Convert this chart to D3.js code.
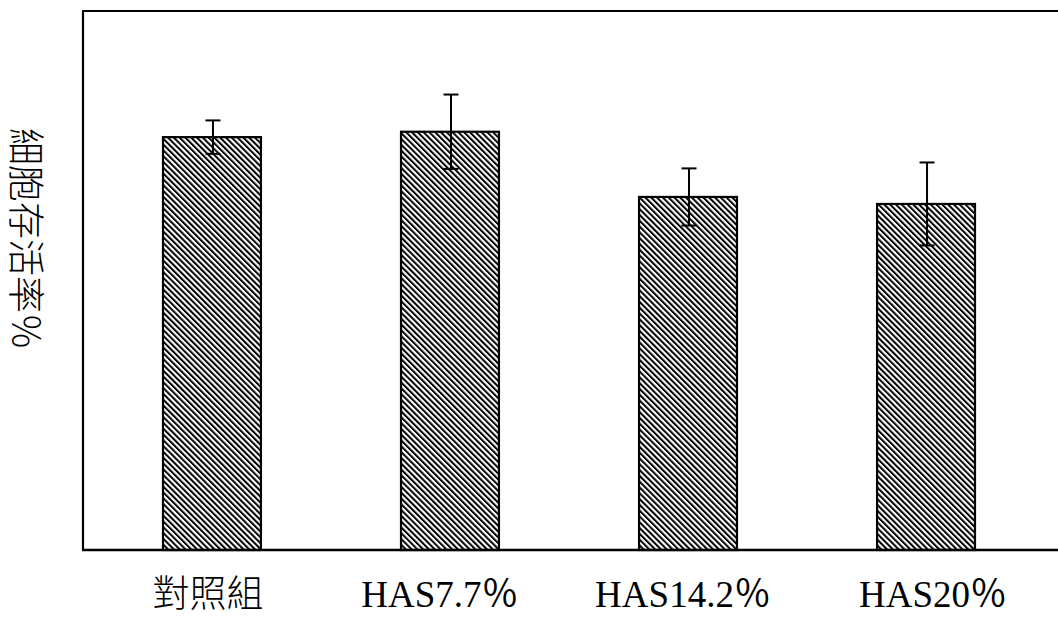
<!DOCTYPE html>
<html>
<head>
<meta charset="utf-8">
<script src="https://cdn.jsdelivr.net/npm/d3@7"></script>
<style>
  html, body { margin: 0; padding: 0; background: #fff; }
  svg { display: block; }
</style>
</head>
<body>
<svg id="chart" width="1058" height="623"></svg>
<script>
const categories = ["對照組", "HAS7.7％", "HAS14.2％", "HAS20％"];
const values = [76.6, 77.6, 65.5, 64.2];
const errors = [3.1, 6.9, 5.3, 7.7];
const yLabel = "細胞存活率％";

const svg = d3.select("#chart");
const W = 1058, H = 623;
const frame = { left: 83, top: 11, right: 1058, bottom: 550 };

const x = d3.scaleBand()
  .domain(categories)
  .range([163, 975])
  .paddingInner(0.5886)
  .paddingOuter(0);

const y = d3.scaleLinear()
  .domain([0, 100])
  .range([frame.bottom, frame.top]);

// hatch pattern
const defs = svg.append("defs");
const pat = defs.append("pattern")
  .attr("id", "hatch")
  .attr("patternUnits", "userSpaceOnUse")
  .attr("width", 4.1)
  .attr("height", 4.1)
  .attr("patternTransform", "rotate(-45)");
pat.append("rect").attr("width", 4.1).attr("height", 4.1).attr("fill", "#fff");
pat.append("line")
  .attr("x1", 1).attr("y1", -1).attr("x2", 1).attr("y2", 6)
  .attr("stroke", "#000").attr("stroke-width", 2.0);

// frame
const g = svg.append("g");
g.append("line")
  .attr("x1", frame.left).attr("x2", frame.left)
  .attr("y1", y(100)).attr("y2", y(0))
  .attr("stroke", "#000").attr("stroke-width", 2.2);
g.append("line")
  .attr("x1", frame.left - 1).attr("x2", frame.right)
  .attr("y1", y(100)).attr("y2", y(100))
  .attr("stroke", "#000").attr("stroke-width", 2.2);

// bars
g.selectAll("rect.bar")
  .data(categories)
  .join("rect")
  .attr("class", "bar")
  .attr("x", d => x(d))
  .attr("width", x.bandwidth())
  .attr("y", (d, i) => y(values[i]))
  .attr("height", (d, i) => y(0) - y(values[i]))
  .attr("fill", "url(#hatch)")
  .attr("stroke", "#000")
  .attr("stroke-width", 2.2);

// baseline
g.append("line")
  .attr("x1", frame.left - 1).attr("x2", frame.right)
  .attr("y1", y(0)).attr("y2", y(0))
  .attr("stroke", "#000").attr("stroke-width", 2.4);

// error bars
const cap = 7.5;
categories.forEach((c, i) => {
  const cx = x(c) + x.bandwidth() / 2 + 1;
  const top = y(values[i] + errors[i]);
  const bot = y(values[i] - errors[i]);
  g.append("line").attr("x1", cx).attr("x2", cx).attr("y1", top).attr("y2", bot)
    .attr("stroke", "#000").attr("stroke-width", 2);
  g.append("line").attr("x1", cx - cap).attr("x2", cx + cap).attr("y1", top).attr("y2", top)
    .attr("stroke", "#000").attr("stroke-width", 2);
  g.append("line").attr("x1", cx - cap).attr("x2", cx + cap).attr("y1", bot).attr("y2", bot)
    .attr("stroke", "#000").attr("stroke-width", 2);
});

// x labels
const labelOffsets = [-4, -10, -5, 7];
g.selectAll("text.xl")
  .data(categories)
  .join("text")
  .attr("class", "xl")
  .attr("x", (d, i) => x(d) + x.bandwidth() / 2 + labelOffsets[i])
  .attr("y", 607)
  .attr("text-anchor", "middle")
  .attr("font-family", (d, i) => i === 0 ? "'Noto Sans CJK TC', sans-serif" : "'Liberation Serif', 'Noto Sans CJK TC', serif")
  .attr("font-weight", (d, i) => i === 0 ? 300 : 400)
  .attr("font-size", 37)
  .attr("fill", "#000")
  .text(d => d);

// y label
svg.append("text")
  .attr("transform", "translate(28,239) rotate(90)")
  .attr("text-anchor", "middle")
  .attr("dominant-baseline", "central")
  .attr("font-family", "'Noto Sans CJK TC', sans-serif")
  .attr("font-weight", 300)
  .attr("font-size", 37)
  .attr("fill", "#000")
  .text(yLabel);
</script>
</body>
</html>
